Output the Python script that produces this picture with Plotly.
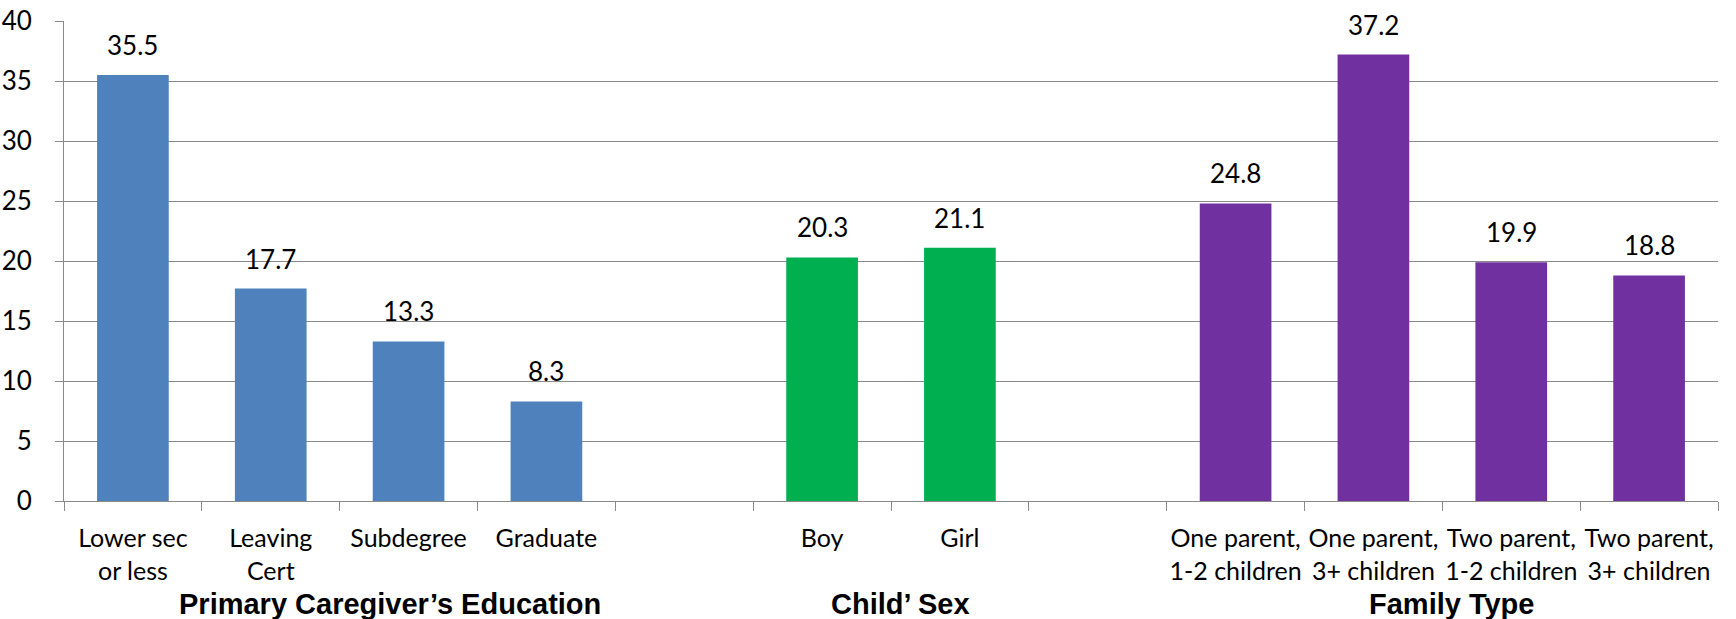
import plotly.graph_objects as go

# Categories on one shared axis; blank slots separate the three groups
edu_labels = ["Lower sec<br>or less", "Leaving<br>Cert", "Subdegree", "Graduate"]
sex_labels = ["Boy", "Girl"]
family_labels = ["One parent,<br>1-2 children", "One parent,<br>3+ children",
                 "Two parent,<br>1-2 children", "Two parent,<br>3+ children"]
gap_a, gap_b = " ", "  "

edu_values = [35.5, 17.7, 13.3, 8.3]
sex_values = [20.3, 21.1]
family_values = [24.8, 37.2, 19.9, 18.8]

group_titles = ["Primary Caregiver’s Education", "Child’ Sex", "Family Type"]
y_ticks = [0, 5, 10, 15, 20, 25, 30, 35, 40]

category_order = edu_labels + [gap_a] + sex_labels + [gap_b] + family_labels

BLUE, GREEN, PURPLE = "#4F81BD", "#00B050", "#7030A0"
GRID = "#8a8a8a"
BODY_FONT = "Lato"
TITLE_FONT = "Liberation Sans"

fig = go.Figure()
for labels, values, color in [(edu_labels, edu_values, BLUE),
                              (sex_labels, sex_values, GREEN),
                              (family_labels, family_values, PURPLE)]:
    fig.add_trace(go.Bar(x=labels, y=values, marker=dict(color=color, line=dict(width=0)),
                         showlegend=False, hoverinfo="x+y"))
    # value labels above each bar
    for lab, val in zip(labels, values):
        fig.add_annotation(x=lab, y=val, xref="x", yref="y", text=f"{val:.1f}",
                           showarrow=False, yanchor="bottom", yshift=12,
                           font=dict(family=BODY_FONT, size=26, color="black"))

# group titles under the category labels
for title, xpos in zip(group_titles, [0.1972, 0.5057, 0.8387]):
    fig.add_annotation(x=xpos, y=-0.2145, xref="paper", yref="paper", text=f"<b>{title}</b>",
                       showarrow=False, xanchor="center", yanchor="middle",
                       font=dict(family=TITLE_FONT, size=29, color="black"))

fig.update_layout(
    width=1736, height=619,
    margin=dict(l=64, r=18, t=21, b=118, autoexpand=False),
    paper_bgcolor="white", plot_bgcolor="white",
    barmode="overlay", bargap=0.48,
    font=dict(family=BODY_FONT, size=25, color="black"),
)
fig.update_xaxes(
    type="category", categoryorder="array", categoryarray=category_order,
    range=[-0.5, len(category_order) - 0.5],
    showline=True, linecolor=GRID, linewidth=1,
    ticks="outside", tickson="boundaries", ticklen=9, tickcolor=GRID, tickwidth=1,
    tickangle=0, automargin=False, ticklabelstandoff=15,
    showgrid=False, tickfont=dict(family=BODY_FONT, size=25, color="black"),
    fixedrange=True,
)
fig.update_yaxes(
    range=[0, 40], tickvals=y_ticks,
    showgrid=True, gridcolor=GRID, gridwidth=1,
    showline=True, linecolor=GRID, linewidth=1,
    ticks="outside", ticklen=8, tickcolor=GRID, tickwidth=1,
    tickfont=dict(family=BODY_FONT, size=26, color="black"),
    ticklabelstandoff=18, zeroline=False, fixedrange=True, automargin=False,
)

fig.write_html("out.html")
